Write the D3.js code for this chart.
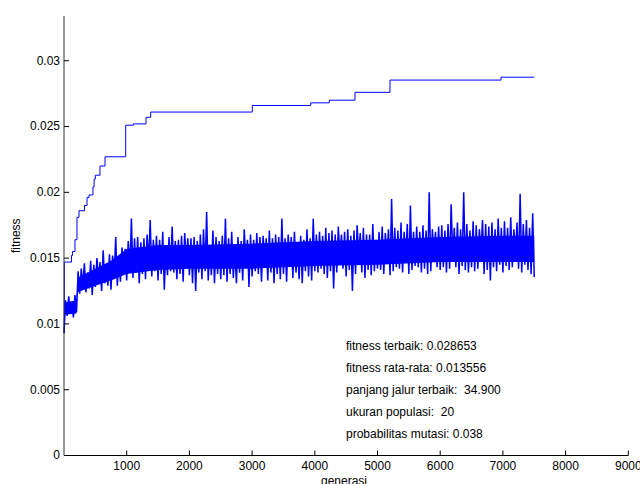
<!DOCTYPE html>
<html>
<head>
<meta charset="utf-8">
<script src="https://cdn.jsdelivr.net/npm/d3@7"></script>
<style>
  body { margin: 0; background: #fff; }
  svg { display: block; font-family: "Liberation Sans", Arial, sans-serif; }
</style>
</head>
<body>
<div id="chart"></div>
<script>
const X_TICKS = [1000, 2000, 3000, 4000, 5000, 6000, 7000, 8000, 9000];
const Y_TICKS = [0, 0.005, 0.01, 0.015, 0.02, 0.025, 0.03];
const Y_TICK_LABELS = ['0', '0.005', '0.01', '0.015', '0.02', '0.025', '0.03'];

// best fitness: generation where it changes, and the new value
const BEST_GEN = [0, 5, 120, 135, 175, 207, 239, 327, 367, 399, 462, 480, 499, 574, 654,
  984, 1105, 1308, 1383, 3003, 3935, 4231, 4641, 5199, 6970, 7500];
const BEST_FITNESS = [0.0093, 0.0147, 0.0152, 0.0155, 0.0164, 0.0181, 0.0186, 0.0190, 0.0196,
  0.0198, 0.0204, 0.0210, 0.0213, 0.0220, 0.0227, 0.0251, 0.0252, 0.0257, 0.0261, 0.0266,
  0.0268, 0.0270, 0.0276, 0.02853, 0.02875, 0.02875];

// average fitness, one value every 25 generations, in units of 1e-4
const AVG_STEP = 25;
const AVG_FITNESS_E4 = [
  93, 118, 106, 121, 108, 116, 105, 122, 109, 140,
  123, 142, 129, 146, 124, 139, 127, 148, 122, 145,
  128, 150, 134, 147, 125, 156, 131, 145, 129, 153,
  126, 152, 136, 166, 129, 149, 132, 158, 140, 157,
  133, 163, 139, 180, 135, 165, 139, 166, 131, 162,
  138, 165, 134, 168, 147, 179, 136, 164, 140, 167,
  133, 164, 138, 170, 126, 158, 137, 166, 140, 174,
  139, 163, 134, 164, 138, 167, 132, 169, 148, 165,
  137, 165, 131, 166, 125, 163, 139, 168, 134, 172,
  140, 185, 133, 158, 137, 171, 131, 166, 138, 163,
  134, 167, 137, 180, 132, 165, 138, 170, 135, 157,
  131, 166, 139, 163, 133, 172, 145, 164, 128, 168,
  136, 164, 140, 169, 138, 166, 132, 167, 148, 165,
  133, 171, 139, 165, 131, 168, 138, 166, 134, 180,
  138, 165, 132, 168, 149, 166, 135, 170, 139, 159,
  134, 167, 131, 164, 140, 172, 136, 165, 133, 180,
  140, 168, 139, 170, 142, 167, 138, 173, 135, 169,
  140, 171, 127, 168, 139, 174, 150, 168, 142, 170,
  136, 172, 141, 167, 125, 171, 138, 175, 152, 169,
  139, 173, 135, 168, 141, 168, 137, 176, 140, 164,
  142, 170, 141, 174, 138, 169, 151, 172, 137, 195,
  140, 173, 143, 171, 142, 177, 139, 170, 150, 176,
  138, 190, 141, 170, 144, 174, 143, 170, 139, 175,
  142, 171, 138, 200, 140, 172, 154, 170, 143, 174,
  141, 175, 143, 171, 139, 176, 142, 191, 151, 173,
  143, 177, 138, 172, 144, 200, 141, 176, 139, 171,
  143, 178, 140, 175, 142, 172, 154, 179, 138, 176,
  141, 174, 133, 177, 143, 172, 140, 180, 145, 173,
  139, 178, 144, 173, 141, 181, 143, 172, 152, 177,
  142, 199, 139, 176, 145, 179, 141, 173, 138, 184,
  135.56
];

// dense core of the average trace (where it is solid blue), units of 1e-4
const CORE_GEN = [0, 200, 215, 500, 750, 1000, 1500, 2000, 3000, 4000, 5000, 6000, 7000, 7500];
const CORE_LO_E4 = [107, 108, 124, 129, 133, 138, 141, 142, 142, 144, 145, 147, 147, 147];
const CORE_HI_E4 = [116, 118, 135, 142, 148, 157, 160, 160, 161, 163, 164, 166, 167, 167];

const INFO_LINES = [
  'fitness terbaik: 0.028653',
  'fitness rata-rata: 0.013556',
  'panjang jalur terbaik:  34.900',
  'ukuran populasi:  20',
  'probabilitas mutasi: 0.038',
];

function render(el) {
  const w = 640, h = 484;
  const left = 64, right = 628.3, top = 16, bottom = 455.5;

  const svg = d3.select(el).append('svg')
    .attr('width', w).attr('height', h);

  const x = d3.scaleLinear().domain([0, 9000]).range([left, right]);
  const y = d3.scaleLinear().domain([0, 0.0334]).range([bottom, top]);

  const best = BEST_GEN.map((g, i) => [g, BEST_FITNESS[i]]);
  const avg = AVG_FITNESS_E4.map((v, i) => [i * AVG_STEP, v / 1e4]);
  const core = CORE_GEN.map((g, i) => [g, CORE_LO_E4[i] / 1e4, CORE_HI_E4[i] / 1e4]);

  svg.append('path')
    .attr('d', d3.area().x(d => x(d[0])).y0(d => y(d[1])).y1(d => y(d[2]))(core))
    .attr('fill', '#0000ff');

  const line = d3.line().x(d => x(d[0])).y(d => y(d[1]));

  svg.append('path')
    .attr('d', line(avg))
    .attr('fill', 'none')
    .attr('stroke', '#0000ff')
    .attr('stroke-width', 1.5);

  svg.append('path')
    .attr('d', line.curve(d3.curveStepAfter)(best))
    .attr('fill', 'none')
    .attr('stroke', '#0000ff')
    .attr('stroke-width', 1);

  // axes, ticks point inward like matlab
  const yAxis = d3.axisLeft(y)
    .tickValues(Y_TICKS)
    .tickFormat((d, i) => Y_TICK_LABELS[i])
    .tickSizeInner(-5).tickSizeOuter(0)
    .tickPadding(4)
    .offset(0);
  const gy = svg.append('g').attr('transform', `translate(${left},0)`).call(yAxis);
  gy.select('.domain').attr('stroke', '#333');

  const xAxis = d3.axisBottom(x)
    .tickValues(X_TICKS)
    .tickFormat(d3.format('d'))
    .tickSizeInner(-5).tickSizeOuter(0)
    .tickPadding(6)
    .offset(0);
  svg.append('g').attr('transform', `translate(0,${bottom})`).call(xAxis);

  svg.selectAll('.tick text')
    .attr('font-size', '12px')
    .attr('font-family', '"Liberation Sans", Arial, sans-serif')
    .attr('fill', '#000');

  svg.append('text')
    .attr('transform', `translate(20,${(top + bottom) / 2}) rotate(-90)`)
    .attr('text-anchor', 'middle')
    .attr('font-size', '12px')
    .text('fitness');

  svg.append('text')
    .attr('x', 344).attr('y', 485)
    .attr('text-anchor', 'middle')
    .attr('font-size', '12px')
    .text('generasi');

  svg.selectAll('text.info')
    .data(INFO_LINES)
    .join('text')
    .attr('class', 'info')
    .attr('x', 346)
    .attr('y', (d, i) => 346 + i * 22)
    .attr('dy', '0.35em')
    .attr('font-size', '12px')
    .style('white-space', 'pre')
    .text(d => d);
}

render(document.getElementById('chart'));
</script>
</body>
</html>
